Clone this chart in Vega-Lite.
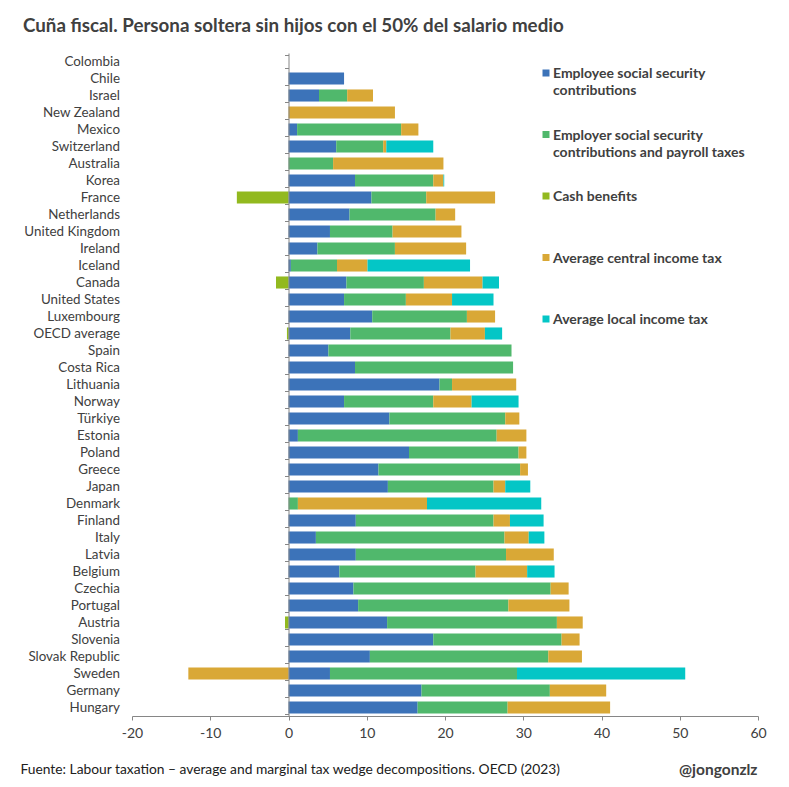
{
  "$schema": "https://vega.github.io/schema/vega-lite/v6.json",
  "autosize": {"type": "none"},
  "padding": {"left": 132, "top": 53, "right": 31, "bottom": 71},
  "width": 626,
  "height": 663,
  "background": "white",
  "title": {
    "text": "Cuña fiscal. Persona soltera sin hijos con el 50% del salario medio",
    "anchor": "start",
    "frame": "group",
    "dx": -109,
    "offset": 10,
    "font": "Lato",
    "fontSize": 18.75,
    "fontWeight": "bold",
    "color": "#404040"
  },
  "data": {
    "values": [
      {"country": "Colombia", "component": "Employee social security contributions", "value": 0, "stack": 1},
      {"country": "Chile", "component": "Employee social security contributions", "value": 7.1, "stack": 1},
      {"country": "Israel", "component": "Employee social security contributions", "value": 3.9, "stack": 1},
      {"country": "Israel", "component": "Employer social security contributions and payroll taxes", "value": 3.6, "stack": 2},
      {"country": "Israel", "component": "Average central income tax", "value": 3.3, "stack": 4},
      {"country": "New Zealand", "component": "Average central income tax", "value": 13.6, "stack": 4},
      {"country": "Mexico", "component": "Employee social security contributions", "value": 1.1, "stack": 1},
      {"country": "Mexico", "component": "Employer social security contributions and payroll taxes", "value": 13.3, "stack": 2},
      {"country": "Mexico", "component": "Average central income tax", "value": 2.2, "stack": 4},
      {"country": "Switzerland", "component": "Employee social security contributions", "value": 6.1, "stack": 1},
      {"country": "Switzerland", "component": "Employer social security contributions and payroll taxes", "value": 6.0, "stack": 2},
      {"country": "Switzerland", "component": "Average central income tax", "value": 0.4, "stack": 4},
      {"country": "Switzerland", "component": "Average local income tax", "value": 6.0, "stack": 5},
      {"country": "Australia", "component": "Employer social security contributions and payroll taxes", "value": 5.7, "stack": 2},
      {"country": "Australia", "component": "Average central income tax", "value": 14.1, "stack": 4},
      {"country": "Korea", "component": "Employee social security contributions", "value": 8.5, "stack": 1},
      {"country": "Korea", "component": "Employer social security contributions and payroll taxes", "value": 10.0, "stack": 2},
      {"country": "Korea", "component": "Average central income tax", "value": 1.3, "stack": 4},
      {"country": "Korea", "component": "Average local income tax", "value": 0.1, "stack": 5},
      {"country": "France", "component": "Employee social security contributions", "value": 10.6, "stack": 1},
      {"country": "France", "component": "Employer social security contributions and payroll taxes", "value": 7.0, "stack": 2},
      {"country": "France", "component": "Cash benefits", "value": -6.6, "stack": 3},
      {"country": "France", "component": "Average central income tax", "value": 8.8, "stack": 4},
      {"country": "Netherlands", "component": "Employee social security contributions", "value": 7.8, "stack": 1},
      {"country": "Netherlands", "component": "Employer social security contributions and payroll taxes", "value": 11.0, "stack": 2},
      {"country": "Netherlands", "component": "Average central income tax", "value": 2.5, "stack": 4},
      {"country": "United Kingdom", "component": "Employee social security contributions", "value": 5.3, "stack": 1},
      {"country": "United Kingdom", "component": "Employer social security contributions and payroll taxes", "value": 8.0, "stack": 2},
      {"country": "United Kingdom", "component": "Average central income tax", "value": 8.8, "stack": 4},
      {"country": "Ireland", "component": "Employee social security contributions", "value": 3.7, "stack": 1},
      {"country": "Ireland", "component": "Employer social security contributions and payroll taxes", "value": 9.9, "stack": 2},
      {"country": "Ireland", "component": "Average central income tax", "value": 9.1, "stack": 4},
      {"country": "Iceland", "component": "Employee social security contributions", "value": 0.3, "stack": 1},
      {"country": "Iceland", "component": "Employer social security contributions and payroll taxes", "value": 5.9, "stack": 2},
      {"country": "Iceland", "component": "Average central income tax", "value": 3.9, "stack": 4},
      {"country": "Iceland", "component": "Average local income tax", "value": 13.1, "stack": 5},
      {"country": "Canada", "component": "Employee social security contributions", "value": 7.4, "stack": 1},
      {"country": "Canada", "component": "Employer social security contributions and payroll taxes", "value": 9.9, "stack": 2},
      {"country": "Canada", "component": "Cash benefits", "value": -1.6, "stack": 3},
      {"country": "Canada", "component": "Average central income tax", "value": 7.5, "stack": 4},
      {"country": "Canada", "component": "Average local income tax", "value": 2.1, "stack": 5},
      {"country": "United States", "component": "Employee social security contributions", "value": 7.1, "stack": 1},
      {"country": "United States", "component": "Employer social security contributions and payroll taxes", "value": 7.9, "stack": 2},
      {"country": "United States", "component": "Average central income tax", "value": 5.9, "stack": 4},
      {"country": "United States", "component": "Average local income tax", "value": 5.3, "stack": 5},
      {"country": "Luxembourg", "component": "Employee social security contributions", "value": 10.7, "stack": 1},
      {"country": "Luxembourg", "component": "Employer social security contributions and payroll taxes", "value": 12.1, "stack": 2},
      {"country": "Luxembourg", "component": "Average central income tax", "value": 3.6, "stack": 4},
      {"country": "OECD average", "component": "Employee social security contributions", "value": 7.9, "stack": 1},
      {"country": "OECD average", "component": "Employer social security contributions and payroll taxes", "value": 12.8, "stack": 2},
      {"country": "OECD average", "component": "Cash benefits", "value": -0.2, "stack": 3},
      {"country": "OECD average", "component": "Average central income tax", "value": 4.4, "stack": 4},
      {"country": "OECD average", "component": "Average local income tax", "value": 2.2, "stack": 5},
      {"country": "Spain", "component": "Employee social security contributions", "value": 5.1, "stack": 1},
      {"country": "Spain", "component": "Employer social security contributions and payroll taxes", "value": 23.4, "stack": 2},
      {"country": "Costa Rica", "component": "Employee social security contributions", "value": 8.5, "stack": 1},
      {"country": "Costa Rica", "component": "Employer social security contributions and payroll taxes", "value": 20.2, "stack": 2},
      {"country": "Lithuania", "component": "Employee social security contributions", "value": 19.3, "stack": 1},
      {"country": "Lithuania", "component": "Employer social security contributions and payroll taxes", "value": 1.6, "stack": 2},
      {"country": "Lithuania", "component": "Average central income tax", "value": 8.2, "stack": 4},
      {"country": "Norway", "component": "Employee social security contributions", "value": 7.1, "stack": 1},
      {"country": "Norway", "component": "Employer social security contributions and payroll taxes", "value": 11.4, "stack": 2},
      {"country": "Norway", "component": "Average central income tax", "value": 4.9, "stack": 4},
      {"country": "Norway", "component": "Average local income tax", "value": 6.0, "stack": 5},
      {"country": "Türkiye", "component": "Employee social security contributions", "value": 12.9, "stack": 1},
      {"country": "Türkiye", "component": "Employer social security contributions and payroll taxes", "value": 14.8, "stack": 2},
      {"country": "Türkiye", "component": "Average central income tax", "value": 1.8, "stack": 4},
      {"country": "Estonia", "component": "Employee social security contributions", "value": 1.2, "stack": 1},
      {"country": "Estonia", "component": "Employer social security contributions and payroll taxes", "value": 25.4, "stack": 2},
      {"country": "Estonia", "component": "Average central income tax", "value": 3.8, "stack": 4},
      {"country": "Poland", "component": "Employee social security contributions", "value": 15.4, "stack": 1},
      {"country": "Poland", "component": "Employer social security contributions and payroll taxes", "value": 14.0, "stack": 2},
      {"country": "Poland", "component": "Average central income tax", "value": 1.0, "stack": 4},
      {"country": "Greece", "component": "Employee social security contributions", "value": 11.5, "stack": 1},
      {"country": "Greece", "component": "Employer social security contributions and payroll taxes", "value": 18.1, "stack": 2},
      {"country": "Greece", "component": "Average central income tax", "value": 1.0, "stack": 4},
      {"country": "Japan", "component": "Employee social security contributions", "value": 12.7, "stack": 1},
      {"country": "Japan", "component": "Employer social security contributions and payroll taxes", "value": 13.5, "stack": 2},
      {"country": "Japan", "component": "Average central income tax", "value": 1.5, "stack": 4},
      {"country": "Japan", "component": "Average local income tax", "value": 3.2, "stack": 5},
      {"country": "Denmark", "component": "Employer social security contributions and payroll taxes", "value": 1.2, "stack": 2},
      {"country": "Denmark", "component": "Average central income tax", "value": 16.5, "stack": 4},
      {"country": "Denmark", "component": "Average local income tax", "value": 14.6, "stack": 5},
      {"country": "Finland", "component": "Employee social security contributions", "value": 8.6, "stack": 1},
      {"country": "Finland", "component": "Employer social security contributions and payroll taxes", "value": 17.6, "stack": 2},
      {"country": "Finland", "component": "Average central income tax", "value": 2.1, "stack": 4},
      {"country": "Finland", "component": "Average local income tax", "value": 4.3, "stack": 5},
      {"country": "Italy", "component": "Employee social security contributions", "value": 3.5, "stack": 1},
      {"country": "Italy", "component": "Employer social security contributions and payroll taxes", "value": 24.1, "stack": 2},
      {"country": "Italy", "component": "Average central income tax", "value": 3.1, "stack": 4},
      {"country": "Italy", "component": "Average local income tax", "value": 2.0, "stack": 5},
      {"country": "Latvia", "component": "Employee social security contributions", "value": 8.6, "stack": 1},
      {"country": "Latvia", "component": "Employer social security contributions and payroll taxes", "value": 19.2, "stack": 2},
      {"country": "Latvia", "component": "Average central income tax", "value": 6.1, "stack": 4},
      {"country": "Belgium", "component": "Employee social security contributions", "value": 6.5, "stack": 1},
      {"country": "Belgium", "component": "Employer social security contributions and payroll taxes", "value": 17.4, "stack": 2},
      {"country": "Belgium", "component": "Average central income tax", "value": 6.6, "stack": 4},
      {"country": "Belgium", "component": "Average local income tax", "value": 3.5, "stack": 5},
      {"country": "Czechia", "component": "Employee social security contributions", "value": 8.3, "stack": 1},
      {"country": "Czechia", "component": "Employer social security contributions and payroll taxes", "value": 25.2, "stack": 2},
      {"country": "Czechia", "component": "Average central income tax", "value": 2.3, "stack": 4},
      {"country": "Portugal", "component": "Employee social security contributions", "value": 8.9, "stack": 1},
      {"country": "Portugal", "component": "Employer social security contributions and payroll taxes", "value": 19.2, "stack": 2},
      {"country": "Portugal", "component": "Average central income tax", "value": 7.8, "stack": 4},
      {"country": "Austria", "component": "Employee social security contributions", "value": 12.6, "stack": 1},
      {"country": "Austria", "component": "Employer social security contributions and payroll taxes", "value": 21.7, "stack": 2},
      {"country": "Austria", "component": "Cash benefits", "value": -0.45, "stack": 3},
      {"country": "Austria", "component": "Average central income tax", "value": 3.3, "stack": 4},
      {"country": "Slovenia", "component": "Employee social security contributions", "value": 18.5, "stack": 1},
      {"country": "Slovenia", "component": "Employer social security contributions and payroll taxes", "value": 16.4, "stack": 2},
      {"country": "Slovenia", "component": "Average central income tax", "value": 2.3, "stack": 4},
      {"country": "Slovak Republic", "component": "Employee social security contributions", "value": 10.4, "stack": 1},
      {"country": "Slovak Republic", "component": "Employer social security contributions and payroll taxes", "value": 22.8, "stack": 2},
      {"country": "Slovak Republic", "component": "Average central income tax", "value": 4.3, "stack": 4},
      {"country": "Sweden", "component": "Employee social security contributions", "value": 5.3, "stack": 1},
      {"country": "Sweden", "component": "Employer social security contributions and payroll taxes", "value": 23.9, "stack": 2},
      {"country": "Sweden", "component": "Average central income tax", "value": -12.8, "stack": 4},
      {"country": "Sweden", "component": "Average local income tax", "value": 21.5, "stack": 5},
      {"country": "Germany", "component": "Employee social security contributions", "value": 17.0, "stack": 1},
      {"country": "Germany", "component": "Employer social security contributions and payroll taxes", "value": 16.4, "stack": 2},
      {"country": "Germany", "component": "Average central income tax", "value": 7.2, "stack": 4},
      {"country": "Hungary", "component": "Employee social security contributions", "value": 16.5, "stack": 1},
      {"country": "Hungary", "component": "Employer social security contributions and payroll taxes", "value": 11.5, "stack": 2},
      {"country": "Hungary", "component": "Average central income tax", "value": 13.1, "stack": 4}
    ]
  },
  "mark": {"type": "bar", "tooltip": true},
  "encoding": {
    "y": {
      "field": "country",
      "type": "nominal",
      "sort": null,
      "scale": {
        "domain": ["Colombia", "Chile", "Israel", "New Zealand", "Mexico", "Switzerland", "Australia", "Korea", "France", "Netherlands", "United Kingdom", "Ireland", "Iceland", "Canada", "United States", "Luxembourg", "OECD average", "Spain", "Costa Rica", "Lithuania", "Norway", "Türkiye", "Estonia", "Poland", "Greece", "Japan", "Denmark", "Finland", "Italy", "Latvia", "Belgium", "Czechia", "Portugal", "Austria", "Slovenia", "Slovak Republic", "Sweden", "Germany", "Hungary"],
        "paddingInner": 0.29,
        "paddingOuter": 0.145
      },
      "axis": {
        "title": "@jongonzlz",
        "titleAngle": 0,
        "titleX": 468.5,
        "titleY": 716,
        "titleAlign": "right",
        "titleBaseline": "middle",
        "titleFont": "Lato",
        "titleFontSize": 15.5,
        "titleFontWeight": "bold",
        "titleColor": "#404040",
        "offset": -156.5,
        "zindex": 1,
        "tickBand": "extent",
        "tickSize": 4,
        "tickColor": "#868686",
        "domainColor": "#868686",
        "labelFont": "Lato",
        "labelFontSize": 13.4,
        "labelColor": "#404040",
        "labelPadding": 165,
        "labelLimit": 200
      }
    },
    "x": {
      "field": "value",
      "type": "quantitative",
      "stack": "zero",
      "scale": {"domain": [-20, 60], "nice": false},
      "axis": {
        "title": "Fuente: Labour taxation – average and marginal tax wedge decompositions. OECD (2023)",
        "titleX": -112,
        "titleY": 53,
        "titleAnchor": "start",
        "titleAlign": "left",
        "titleBaseline": "middle",
        "titleFont": "Lato",
        "titleFontSize": 13.8,
        "titleFontWeight": "normal",
        "titleColor": "#202020",
        "values": [-20, -10, 0, 10, 20, 30, 40, 50, 60],
        "labelExpr": "'' + datum.value",
        "grid": false,
        "tickSize": 4,
        "tickColor": "#868686",
        "domainColor": "#868686",
        "labelFont": "Lato",
        "labelFontSize": 14,
        "labelColor": "#404040",
        "labelPadding": 6,
        "labelFlush": false
      }
    },
    "color": {
      "field": "component",
      "type": "nominal",
      "scale": {
        "domain": ["Employee social security contributions", "Employer social security contributions and payroll taxes", "Cash benefits", "Average central income tax", "Average local income tax"],
        "range": ["#3c73b9", "#50b86c", "#92b91f", "#d9a836", "#04c6c6"]
      },
      "legend": {
        "title": null,
        "orient": "none",
        "legendX": 407,
        "legendY": 13,
        "columns": 1,
        "gridAlign": "all",
        "rowPadding": 29.5,
        "symbolType": "square",
        "symbolSize": 49,
        "symbolStrokeWidth": 0,
        "labelFont": "Lato",
        "labelFontSize": 14,
        "labelFontWeight": "bold",
        "labelColor": "#404040",
        "labelOffset": 0,
        "labelLimit": 240,
        "labelBaseline": "top",
        "labelExpr": "datum.label == 'Employee social security contributions' ? ['Employee social security', 'contributions'] : datum.label == 'Employer social security contributions and payroll taxes' ? ['Employer social security', 'contributions and payroll taxes'] : datum.label",
        "encoding": {"labels": {"dy": {"value": -6}, "lineHeight": {"value": 17}}}
      }
    },
    "order": {"field": "stack", "type": "quantitative"}
  },
  "config": {
    "view": {"stroke": null},
    "axis": {"labelOverlap": false}
  }
}
